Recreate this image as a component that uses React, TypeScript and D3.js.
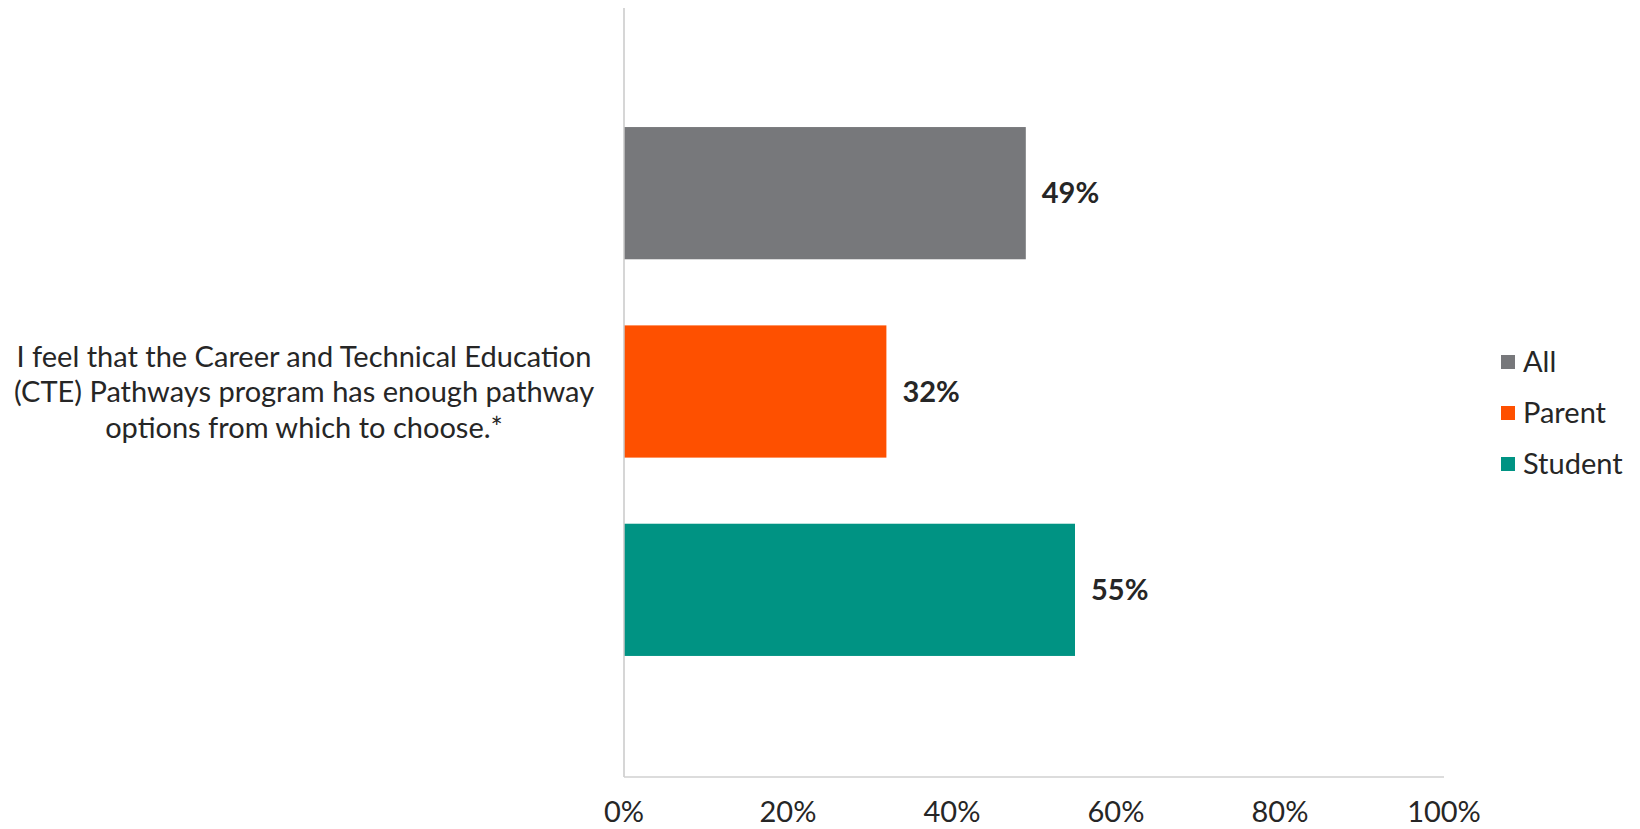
import React from "react";
import * as d3 from "d3";

const seriesNames = ["All", "Parent", "Student"];
const seriesValues = [0.49, 0.32, 0.55];
const seriesColors = ["#77787b", "#fe5000", "#009383"];
const categoryLines = [
  "I feel that the Career and Technical Education",
  "(CTE) Pathways program has enough pathway",
  "options from which to choose.*",
];
const xTicks = [0, 0.2, 0.4, 0.6, 0.8, 1.0];

const W = 1640;
const H = 829;
const plotLeft = 624;
const plotRight = 1444;
const plotTop = 8;
const plotBottom = 777;
const FONT = "Lato, 'Open Sans', sans-serif";
const TEXT = "#262626";

export default function App() {
  const x = d3.scaleLinear().domain([0, 1]).range([plotLeft, plotRight]);
  const y = d3
    .scaleBand<string>()
    .domain(seriesNames)
    .range([94, 689])
    .paddingInner(1 / 3)
    .paddingOuter(1 / 6);
  const pct = d3.format(".0%");
  const midY = 392;

  return (
    <svg
      width={W}
      height={H}
      style={{ position: "absolute", left: 0, top: 0, background: "#fff" }}
      fontFamily={FONT}
    >
      {seriesNames.map((s, i) => (
        <rect
          key={s}
          x={x(0)}
          y={y(s)}
          width={x(seriesValues[i]) - x(0)}
          height={y.bandwidth()}
          fill={seriesColors[i]}
        />
      ))}
      <line x1={plotLeft} x2={plotLeft} y1={plotTop} y2={plotBottom} stroke="#c8c8c8" strokeWidth={1.5} />
      <line x1={plotLeft} x2={plotRight} y1={plotBottom} y2={plotBottom} stroke="#d0d0d0" strokeWidth={1.5} />
      {seriesNames.map((s, i) => (
        <text
          key={s}
          x={x(seriesValues[i]) + 16}
          y={(y(s) as number) + y.bandwidth() / 2}
          dy="0.35em"
          fontSize={29}
          fontWeight={700}
          fill={TEXT}
        >
          {pct(seriesValues[i])}
        </text>
      ))}
      {xTicks.map((t) => (
        <text key={t} x={x(t)} y={812} dy="0.35em" textAnchor="middle" fontSize={29} fill={TEXT}>
          {pct(t)}
        </text>
      ))}
      {categoryLines.map((l, i) => (
        <text
          key={i}
          x={304}
          y={midY + (i - 1) * 35.5}
          dy="0.35em"
          textAnchor="middle"
          fontSize={29}
          fill={TEXT}
        >
          {l}
        </text>
      ))}
      {seriesNames.map((s, i) => (
        <g key={s} transform={`translate(1501, ${362 + i * 51})`}>
          <rect x={0} y={-7} width={14} height={14} fill={seriesColors[i]} />
          <text x={22} y={0} dy="0.35em" fontSize={29} fill={TEXT}>
            {s}
          </text>
        </g>
      ))}
    </svg>
  );
}
